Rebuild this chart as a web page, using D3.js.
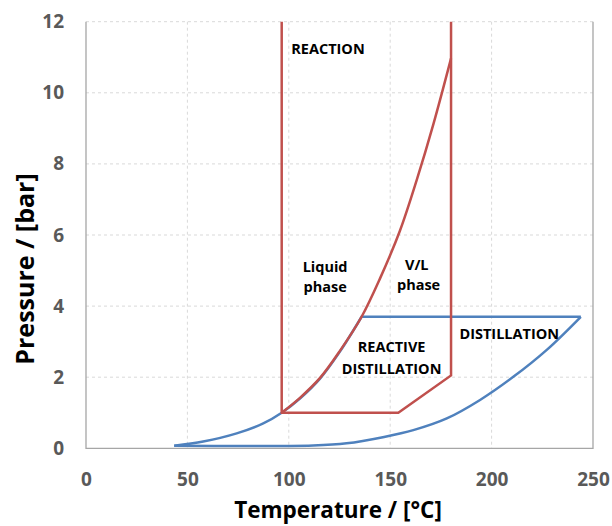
<!DOCTYPE html>
<html>
<head>
<meta charset="utf-8">
<script src="https://cdn.jsdelivr.net/npm/d3@7"></script>
<style>
  body { margin: 0; background: #fff; }
  svg { font-family: "Open Sans", Lato, sans-serif; }
</style>
</head>
<body>
<svg width="612" height="526"></svg>
<script>
// red: reaction window (boundary of the reaction region)
var reactionT = [96.5, 96.5, 154, 180, 180];
var reactionP = [12, 1.0, 1.0, 2.05, 12];

// red: vapour pressure curve
var vapourT = [96.5, 105.5, 115.4, 125.2, 135.9, 145, 154.8, 163.1, 171.3, 180];
var vapourP = [1.0, 1.42, 1.98, 2.74, 3.70, 4.78, 6.12, 7.55, 9.12, 10.97];

// blue: distillation envelope, upper part (left to right)
var blueUpperT = [43.5, 57.8, 74.3, 87.4, 96.5, 105.5, 115.4, 125.2, 135.9, 244];
var blueUpperP = [0.07, 0.19, 0.42, 0.70, 1.0, 1.40, 1.96, 2.72, 3.70, 3.70];

// blue: distillation envelope, lower part (right to left)
var blueLowerT = [244, 227.2, 210.7, 194.3, 177.9, 161.4, 147, 128.5, 112, 43.5];
var blueLowerP = [3.70, 2.77, 2.01, 1.36, 0.84, 0.51, 0.32, 0.14, 0.08, 0.07];

var xTicks = [0, 50, 100, 150, 200, 250];
var yTicks = [0, 2, 4, 6, 8, 10, 12];

var labels = [
  {t: 'REACTION', x: 119.3, y: 11.09},
  {t: 'Liquid', x: 117.9, y: 4.96},
  {t: 'phase', x: 117.9, y: 4.40},
  {t: 'V/L', x: 163.1, y: 5.02},
  {t: 'phase', x: 164, y: 4.45},
  {t: 'REACTIVE', x: 150.7, y: 2.72},
  {t: 'DISTILLATION', x: 150.7, y: 2.09},
  {t: 'DISTILLATION', x: 208.7, y: 3.07}
];

var svg = d3.select('svg');
var plotL = 86, plotR = 593, plotT = 21.7, plotB = 448.3;

var x = d3.scaleLinear().domain([0, 250]).range([plotL, plotR]);
var y = d3.scaleLinear().domain([0, 12]).range([plotB, plotT]);

// gridlines
svg.append('g').selectAll('line')
  .data(yTicks.filter(function(d) { return d > 0; }))
  .enter()
  .append('line')
  .attr('x1', plotL).attr('x2', plotR)
  .attr('y1', function(d) { return y(d); })
  .attr('y2', function(d) { return y(d); })
  .attr('stroke', '#d9d9d9')
  .attr('stroke-dasharray', '3,3');
svg.append('g').selectAll('line')
  .data(xTicks.filter(function(d) { return d > 0 && d < 250; }))
  .enter()
  .append('line')
  .attr('y1', plotT).attr('y2', plotB)
  .attr('x1', function(d) { return x(d); })
  .attr('x2', function(d) { return x(d); })
  .attr('stroke', '#d9d9d9')
  .attr('stroke-dasharray', '3,3');

// plot frame (left, bottom, right)
svg.append('path')
  .attr('d', 'M' + plotL + ',' + plotT + 'V' + plotB + 'H' + plotR + 'V' + plotT)
  .attr('fill', 'none')
  .attr('stroke', '#a6a6a6')
  .attr('stroke-width', 1.3);

// axes
var xAxis = svg.append('g')
  .attr('transform', 'translate(0,' + plotB + ')')
  .call(d3.axisBottom(x).tickValues(xTicks).tickSize(0).tickPadding(24));
var yAxis = svg.append('g')
  .attr('transform', 'translate(' + plotL + ',0)')
  .call(d3.axisLeft(y).tickValues(yTicks).tickSize(0).tickPadding(22));
[xAxis, yAxis].forEach(function(a) {
  a.select('.domain').remove();
  a.selectAll('text')
    .attr('fill', '#595959')
    .style('font-size', '19px')
    .style('font-weight', 'bold')
    .style('font-family', '"Open Sans", sans-serif');
});

var line = d3.line()
  .x(function(d) { return x(d[0]); })
  .y(function(d) { return y(d[1]); });
var curve = d3.line()
  .x(function(d) { return x(d[0]); })
  .y(function(d) { return y(d[1]); })
  .curve(d3.curveCatmullRom);

var zip = function(a, b) {
  return a.map(function(v, i) { return [v, b[i]]; });
};

// blue envelope
var upper = zip(blueUpperT, blueUpperP);
svg.append('path')
  .attr('d', curve(upper.slice(0, upper.length - 1)) + 'L' + x(blueUpperT[blueUpperT.length - 1]) + ',' + y(blueUpperP[blueUpperP.length - 1]))
  .attr('fill', 'none')
  .attr('stroke', '#4f81bd')
  .attr('stroke-width', 2.5);
svg.append('path')
  .attr('d', curve(zip(blueLowerT, blueLowerP).reverse()))
  .attr('fill', 'none')
  .attr('stroke', '#4f81bd')
  .attr('stroke-width', 2.5);

// red reaction window and vapour curve
svg.append('path')
  .attr('d', line(zip(reactionT, reactionP)))
  .attr('fill', 'none')
  .attr('stroke', '#c0504d')
  .attr('stroke-width', 2.5)
  .attr('stroke-linejoin', 'miter');
svg.append('path')
  .attr('d', curve(zip(vapourT, vapourP)))
  .attr('fill', 'none')
  .attr('stroke', '#c0504d')
  .attr('stroke-width', 2.5);

// region labels
svg.append('g').selectAll('text')
  .data(labels)
  .enter()
  .append('text')
  .attr('x', function(d) { return x(d.x); })
  .attr('y', function(d) { return y(d.y); })
  .attr('text-anchor', 'middle')
  .style('font-size', '14.5px')
  .style('font-weight', 'bold')
  .text(function(d) { return d.t; });

// axis titles
svg.append('text')
  .attr('x', 338)
  .attr('y', 518)
  .attr('text-anchor', 'middle')
  .style('font-size', '22.5px')
  .style('font-weight', 'bold')
  .text('Temperature / [°C]');
svg.append('text')
  .attr('transform', 'translate(34,269) rotate(-90)')
  .attr('text-anchor', 'middle')
  .style('font-size', '25px')
  .style('font-weight', 'bold')
  .text('Pressure / [bar]');
</script>
</body>
</html>
